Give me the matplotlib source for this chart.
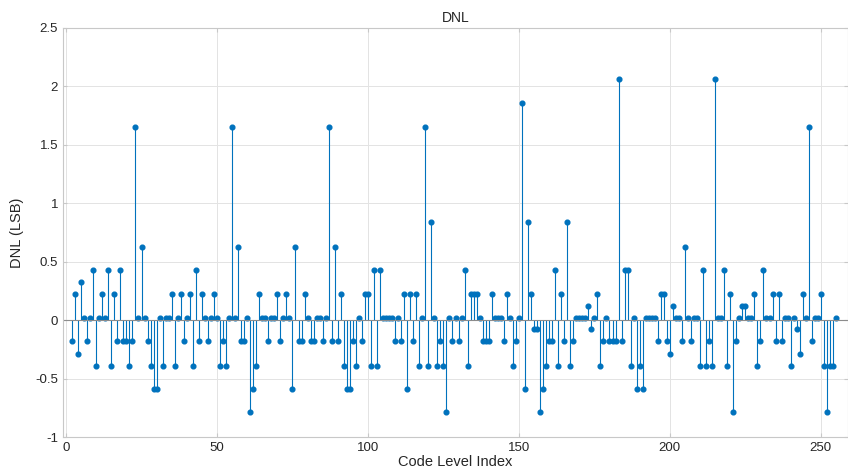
import numpy as np
import matplotlib
matplotlib.use("Agg")
import matplotlib.pyplot as plt

plt.rcParams['font.family'] = ['Liberation Sans', 'DejaVu Sans']

code_index = np.arange(2, 256)
dnl_values = [
    -0.18, 0.22, -0.29, 0.33, 0.02, -0.18, 0.02, 0.43, -0.39, 0.02,   # 2-11
    0.22, 0.02, 0.43, -0.39, 0.22, -0.18, 0.43, -0.18, -0.18, -0.39,  # 12-21
    -0.18, 1.65, 0.02, 0.63, 0.02, -0.18, -0.39, -0.59, -0.59, 0.02,  # 22-31
    -0.39, 0.02, 0.02, 0.22, -0.39, 0.02, 0.22, -0.18, 0.02, 0.22,    # 32-41
    -0.39, 0.43, -0.18, 0.22, 0.02, -0.18, 0.02, 0.22, 0.02, -0.39,   # 42-51
    -0.18, -0.39, 0.02, 1.65, 0.02, 0.63, -0.18, -0.18, 0.02, -0.79,  # 52-61
    -0.59, -0.39, 0.22, 0.02, 0.02, -0.18, 0.02, 0.02, 0.22, -0.18,   # 62-71
    0.02, 0.22, 0.02, -0.59, 0.63, -0.18, -0.18, 0.22, 0.02, -0.18,   # 72-81
    -0.18, 0.02, 0.02, -0.18, 0.02, 1.65, -0.18, 0.63, -0.18, 0.22,   # 82-91
    -0.39, -0.59, -0.59, -0.18, -0.39, 0.02, -0.18, 0.22, 0.22, -0.39, # 92-101
    0.43, -0.39, 0.43, 0.02, 0.02, 0.02, 0.02, -0.18, 0.02, -0.18,    # 102-111
    0.22, -0.59, 0.22, -0.18, 0.22, -0.39, 0.02, 1.65, -0.39, 0.84,   # 112-121
    0.02, -0.39, -0.18, -0.39, -0.79, 0.02, -0.18, 0.02, -0.18, 0.02, # 122-131
    0.43, -0.39, 0.22, 0.22, 0.22, 0.02, -0.18, -0.18, -0.18, 0.22,   # 132-141
    0.02, 0.02, 0.02, -0.18, 0.22, 0.02, -0.39, -0.18, 0.02, 1.86,    # 142-151
    -0.59, 0.84, 0.22, -0.08, -0.08, -0.79, -0.59, -0.39, -0.18, -0.18, # 152-161
    0.43, -0.39, 0.22, -0.18, 0.84, -0.39, -0.18, 0.02, 0.02, 0.02,   # 162-171
    0.02, 0.12, -0.08, 0.02, 0.22, -0.39, -0.18, 0.02, -0.18, -0.18,  # 172-181
    -0.18, 2.06, -0.18, 0.43, 0.43, -0.39, 0.02, -0.59, -0.39, -0.59, # 182-191
    0.02, 0.02, 0.02, 0.02, -0.18, 0.22, 0.22, -0.18, -0.29, 0.12,    # 192-201
    0.02, 0.02, -0.18, 0.63, 0.02, -0.18, 0.02, 0.02, -0.39, 0.43,    # 202-211
    -0.39, -0.18, -0.39, 2.06, 0.02, 0.02, 0.43, -0.39, 0.22, -0.79,  # 212-221
    -0.18, 0.02, 0.12, 0.12, 0.02, 0.02, 0.22, -0.39, -0.18, 0.43,    # 222-231
    0.02, 0.02, 0.22, -0.18, 0.22, -0.18, 0.02, 0.02, -0.39, 0.02,    # 232-241
    -0.08, -0.29, 0.22, 0.02, 1.65, -0.18, 0.02, 0.02, 0.22, -0.39,   # 242-251
    -0.79, -0.39, -0.39, 0.02,                                        # 252-255
]
x_ticks = [0, 50, 100, 150, 200, 250]
y_ticks = [-1, -0.5, 0, 0.5, 1, 1.5, 2, 2.5]
y_tick_labels = ['-1', '-0.5', '0', '0.5', '1', '1.5', '2', '2.5']

blue = '#0072BD'
txt = '#262626'

fig = plt.figure(figsize=(8.48, 4.74), dpi=100)
ax = fig.add_axes([63/848, 1 - 437/474, (848 - 63)/848, (437 - 28)/474])

markerline, stemlines, baseline = ax.stem(code_index, dnl_values)
plt.setp(stemlines, color=blue, linewidth=0.8)
plt.setp(markerline, color=blue, marker='o', markersize=3.4,
         markerfacecolor=blue, markeredgecolor=blue)
plt.setp(baseline, color='#8c8c8c', linewidth=0.8)
baseline.set_xdata([-10, 300])

ax.set_xlim(-1, 259)
ax.set_ylim(-1, 2.5)
ax.set_xticks(x_ticks)
ax.set_yticks(y_ticks)
ax.set_yticklabels(y_tick_labels)
ax.grid(True, color='#e3e3e3', linewidth=0.7)
ax.set_axisbelow(True)
for s in ax.spines.values():
    s.set_color('#c8c8c8')
    s.set_linewidth(0.8)
ax.tick_params(colors=txt, labelsize=9.5, length=3, direction='in',
               top=True, right=True, color='#c8c8c8')

ax.set_title('DNL', fontsize=10, color=txt, pad=4)
ax.set_xlabel('Code Level Index', fontsize=10.5, color=txt, labelpad=1)
ax.set_ylabel('DNL (LSB)', fontsize=10.5, color=txt, labelpad=8)

fig.savefig('out.png', dpi=100)
